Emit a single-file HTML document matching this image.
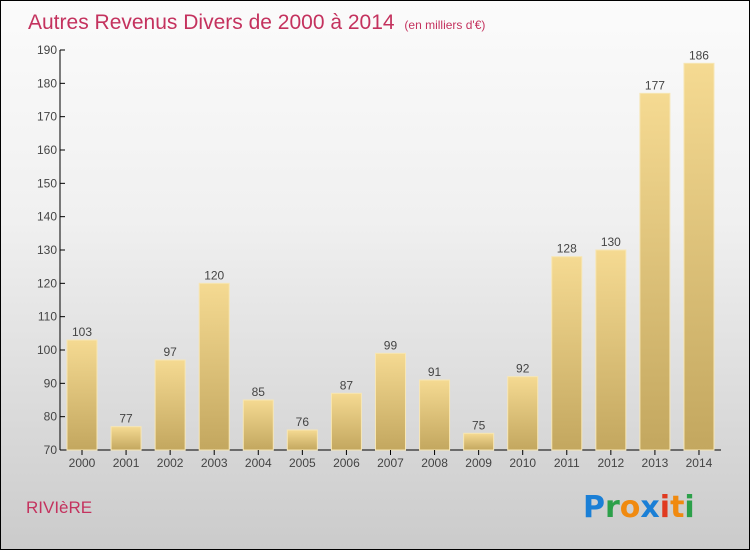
<!DOCTYPE html>
<html><head><meta charset="utf-8"><style>
body{margin:0}
#c{width:748px;height:548px;border:1px solid #000;background:linear-gradient(#fbfbfb,#f0f0f0 40%,#cbcbcb);position:relative;overflow:hidden;font-family:"Liberation Sans",sans-serif}
</style></head><body>
<div id="c">
<svg id="s" width="748" height="548">
<defs><linearGradient id="g" x1="0" y1="0" x2="0" y2="1"><stop offset="0" stop-color="#f5da92"/><stop offset="1" stop-color="#c3a75f"/></linearGradient></defs>
<text x="27" y="28" font-size="21" fill="#c4325e">Autres Revenus Divers de 2000 à 2014 <tspan font-size="12" dx="4">(en milliers d'€)</tspan></text>
<text x="25" y="512" font-size="17" fill="#c4325e">RIVIèRE</text>
<g font-size="30" font-weight="bold" font-family="'DejaVu Sans',sans-serif">
<text x="582" y="516" fill="#1a7fd6">P<tspan fill="#2ca04a">r</tspan><tspan fill="#f08a10">o</tspan><tspan fill="#1a7fd6">x</tspan><tspan fill="#e03a20">i</tspan><tspan fill="#f08a10">t</tspan><tspan fill="#2ca04a">i</tspan></text>
</g>
<g id="plot"></g>
</svg>
</div>
<script>
const categories=["2000","2001","2002","2003","2004","2005","2006","2007","2008","2009","2010","2011","2012","2013","2014"];
const values=[103,77,97,120,85,76,87,99,91,75,92,128,130,177,186];
const yTicks=[70,80,90,100,110,120,130,140,150,160,170,180,190];
const ns="http://www.w3.org/2000/svg";
const g=document.getElementById('plot');
const y=v=>449-(v-70)*(400/120);
const x=i=>66+i*44.07;
function mk(t,a){const e=document.createElementNS(ns,t);for(const k in a)e.setAttribute(k,a[k]);g.appendChild(e);return e;}
const ax=mk('line',{x1:59,y1:49,x2:59,y2:449,stroke:'#000'});

const bx=mk('line',{x1:59,y1:449,x2:720,y2:449,stroke:'#000'});

yTicks.forEach(v=>{
 const t=mk('line',{x1:59,x2:64,y1:y(v),y2:y(v),stroke:'#000'});
 
 const l=mk('text',{x:56,y:y(v)+4,'font-size':12,fill:'#444','text-anchor':'end'});l.textContent=v;
 
});
categories.forEach((c,i)=>{
 const b=mk('rect',{x:x(i),y:y(values[i]),width:30,height:449-y(values[i]),fill:'url(#g)',stroke:'#f7e6b4','stroke-width':1});
 
 const v=mk('text',{x:x(i)+15,y:y(values[i])-4,'font-size':12,fill:'#444','text-anchor':'middle'});v.textContent=values[i];
 
 const t=mk('line',{x1:x(i)+15,x2:x(i)+15,y1:449,y2:454,stroke:'#000'});
 
 const l=mk('text',{x:x(i)+15,y:466,'font-size':12,fill:'#444','text-anchor':'middle'});l.textContent=c;
 
});
</script>
</body></html>
